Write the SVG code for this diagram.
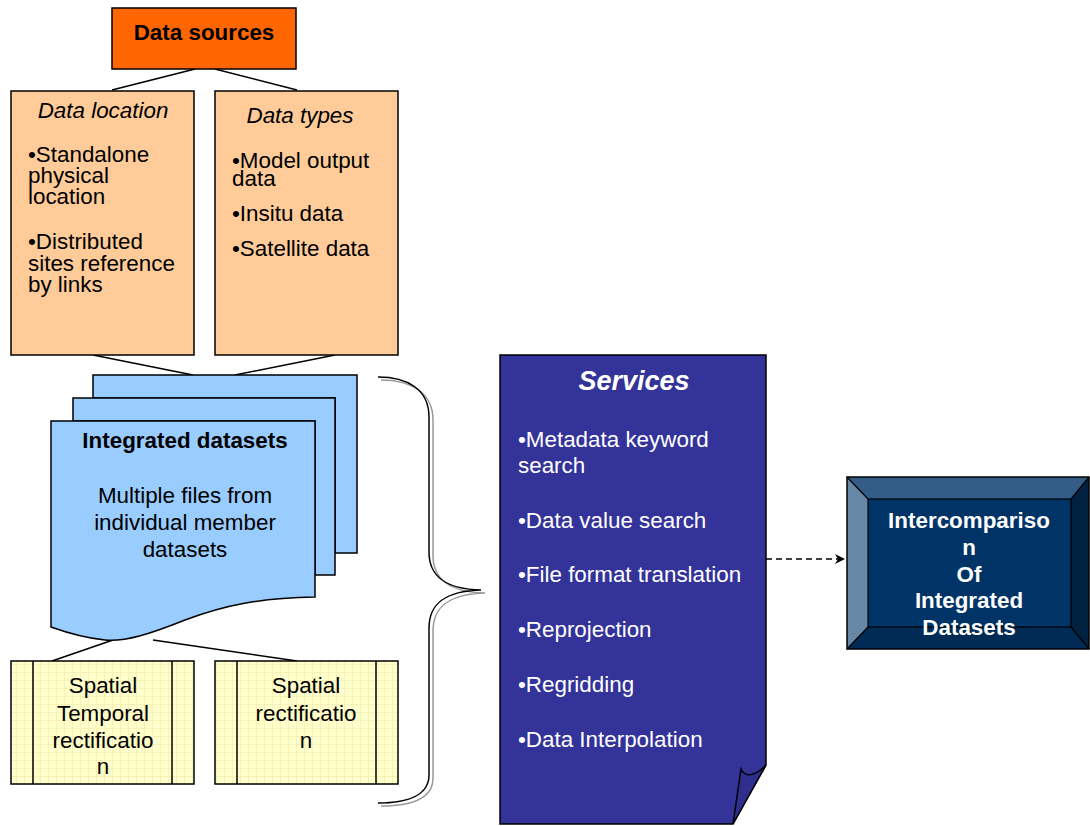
<svg xmlns="http://www.w3.org/2000/svg" width="1090" height="826" viewBox="0 0 1090 826">
<defs>
<style>
text{font-family:"Liberation Sans",Arial,sans-serif;font-size:22.4px;fill:#000}
.b{font-weight:bold}
.i{font-style:italic}
.w{fill:#fff}
.m{text-anchor:middle}
.ln{stroke:#000;stroke-width:1.5;fill:none}
.box{stroke:#000;stroke-width:1.5}
</style>
<pattern id="grid" width="8" height="8" patternUnits="userSpaceOnUse">
<rect width="8" height="8" fill="#FFFFCC"/>
<path d="M0,0.5H8M0.5,0V8" stroke="#F7F1B8" stroke-width="1"/>
</pattern>
<marker id="arr" viewBox="0 0 10 10" refX="10" refY="5" markerWidth="10" markerHeight="10" markerUnits="userSpaceOnUse" orient="auto">
<path d="M0,0 L10,5 L0,10 L3,5 Z" fill="#000"/>
</marker>
</defs>

<g id="connectors">
<path class="ln" d="M195,69 L112,90"/>
<path class="ln" d="M215,69 L297,90"/>
<path class="ln" d="M93,355 L193,375"/>
<path class="ln" d="M335,355 L235,375"/>
<path class="ln" d="M113,640 L52,661"/>
<path class="ln" d="M153,640 L297,661"/>
<path d="M766,559 H845" stroke="#000" stroke-width="1.5" stroke-dasharray="6,4" fill="none" marker-end="url(#arr)"/>
</g>

<g id="data-sources">
<rect class="box" x="112" y="8" width="184" height="61" fill="#FF6600"/>
<text class="b m" x="204" y="40">Data sources</text>
</g>

<g id="data-location">
<rect class="box" x="11" y="91" width="183" height="264" fill="#FFCC99"/>
<text class="i m" x="103" y="118">Data location</text>
<text x="28" y="162">•Standalone</text>
<text x="28" y="183">physical</text>
<text x="28" y="204">location</text>
<text x="28" y="249">•Distributed</text>
<text x="28" y="271">sites reference</text>
<text x="28" y="292">by links</text>
</g>

<g id="data-types">
<rect class="box" x="215" y="91" width="183" height="264" fill="#FFCC99"/>
<text class="i m" x="300" y="123">Data types</text>
<text x="232" y="168">•Model output</text>
<text x="232" y="186">data</text>
<text x="232" y="221">•Insitu data</text>
<text x="232" y="256">•Satellite data</text>
</g>

<g id="integrated-datasets">
<path class="box" fill="#99CCFF" d="M93,375 H357 V553 H335 V398 H93 Z"/>
<path class="box" fill="#99CCFF" d="M73,398 H335 V575 H315 V421 H73 Z"/>
<path class="box" fill="#99CCFF" d="M51,421 H315 V597 C260,598 225,605 185,620 C150,634 125,642 105,640 C85,638 65,632 51,627 Z"/>
<text class="b m" x="185" y="448">Integrated datasets</text>
<text class="m" x="185" y="503">Multiple files from</text>
<text class="m" x="185" y="530">individual member</text>
<text class="m" x="185" y="557">datasets</text>
</g>

<g id="spatial-temporal">
<rect class="box" x="11" y="661" width="183" height="123" fill="url(#grid)"/>
<path class="ln" d="M33,661 V784 M172,661 V784"/>
<text class="m" x="103" y="693">Spatial</text>
<text class="m" x="103" y="721">Temporal</text>
<text class="m" x="103" y="748">rectificatio</text>
<text class="m" x="103" y="774">n</text>
</g>

<g id="spatial">
<rect class="box" x="215" y="661" width="183" height="123" fill="url(#grid)"/>
<path class="ln" d="M237,661 V784 M376,661 V784"/>
<text class="m" x="306" y="693">Spatial</text>
<text class="m" x="306" y="721">rectificatio</text>
<text class="m" x="306" y="748">n</text>
</g>

<g id="brace">
<path d="M381,380 C410,380 433,392 433,420 V555 C433,580 450,592 485,593 C450,594 433,606 433,631 V778 C433,798 412,806 381,806" fill="none" stroke="#999" stroke-width="1.5"/>
<path d="M378,377 C407,377 429,389 429,417 V552 C429,577 446,589 481,590 C446,591 429,603 429,628 V775 C429,795 408,803 378,803" fill="none" stroke="#000" stroke-width="1.5"/>
</g>

<g id="services">
<path class="box" fill="#333399" d="M500,355 H766 V765 L733,824 H500 Z"/>
<path class="box" fill="#2E2E8C" d="M733,824 L741,769 C745,778 756,776 766,765 Z"/>
<text class="b i m w" x="634" y="390" style="font-size:27px">Services</text>
<text class="w" x="518" y="447">•Metadata keyword</text>
<text class="w" x="518" y="473">search</text>
<text class="w" x="518" y="528">•Data value search</text>
<text class="w" x="518" y="582">•File format translation</text>
<text class="w" x="518" y="637">•Reprojection</text>
<text class="w" x="518" y="692">•Regridding</text>
<text class="w" x="518" y="747">•Data Interpolation</text>
</g>

<g id="intercomparison">
<rect x="847" y="477" width="242" height="172" fill="#003366"/>
<path d="M847,477 H1089 L1071,499 H868 Z" fill="#335C87"/>
<path d="M847,477 L868,499 V627 L847,649 Z" fill="#6688A6"/>
<path d="M1089,477 V649 L1071,627 V499 Z" fill="#00213F"/>
<path d="M847,649 H1089 L1071,627 H868 Z" fill="#002B55"/>
<path d="M847,477 L868,499 M1089,477 L1071,499 M847,649 L868,627 M1089,649 L1071,627" stroke="#000" stroke-width="1.2"/>
<rect x="868" y="499" width="203" height="128" fill="#003366" stroke="#000" stroke-width="1.2"/>
<rect x="847" y="477" width="242" height="172" fill="none" stroke="#000" stroke-width="1.5"/>
<text class="b m w" x="969" y="528">Intercompariso</text>
<text class="b m w" x="969" y="555">n</text>
<text class="b m w" x="969" y="582">Of</text>
<text class="b m w" x="969" y="608">Integrated</text>
<text class="b m w" x="969" y="635">Datasets</text>
</g>
</svg>
